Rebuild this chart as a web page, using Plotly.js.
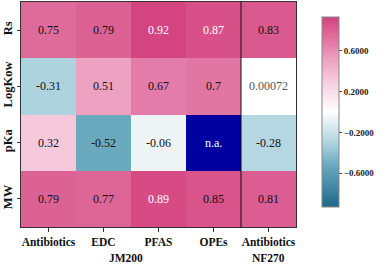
<!DOCTYPE html>
<html><head><meta charset="utf-8">
<script src="https://cdn.plot.ly/plotly-3.0.1.min.js"></script>
<style>html,body{margin:0;padding:0;background:#fff}#c{width:387px;height:265px}</style>
</head><body><div id="c"></div>
<script>
const rowLabels = ['Rs','LogKow','pKa','MW'];
const colLabels = ['Antibiotics','EDC','PFAS','OPEs','Antibiotics'];
const membranes = ['JM200','NF270'];
const rs     = [0.75, 0.79, 0.92, 0.87, 0.83];
const logKow = [-0.31, 0.51, 0.67, 0.7, 0.00072];
const pKa    = [0.32, -0.52, -0.06, null, -0.28];
const mw     = [0.79, 0.77, 0.89, 0.85, 0.81];
const naLabel = 'n.a.';

const z = [rs, logKow, pKa, mw];
const xs = colLabels.map((_, i) => i);
const serif = 'Liberation Serif, Times New Roman, serif';

const cs = [[0,'#1d6a87'],[0.22,'#6ba9bf'],[0.333,'#acd3de'],[0.468,'#eef4f6'],[0.5,'#ffffff'],
  [0.672,'#f5c9db'],[0.774,'#eda2c2'],[0.86,'#e37ca8'],[0.903,'#df6b9a'],[1,'#d3427e']];

const naZ = z.map(r => r.map(v => v === null ? 1 : null));

const traces = [
  {type:'heatmap', x: xs, y: rowLabels, z: z, zmin:-0.93, zmax:0.93, colorscale: cs,
   hoverongaps:false,
   colorbar:{x:1.057, xanchor:'left', y:0.978, yanchor:'top', len:0.933, lenmode:'fraction',
     thickness:17, outlinewidth:1, outlinecolor:'#888', tickvals:[-0.6,-0.2,0.2,0.6],
     tickformat:'.4f', ticks:'outside', ticklen:3, tickcolor:'#444',
     tickfont:{family:serif, size:9, color:'#222', weight:'bold'}}},
  {type:'heatmap', x: xs, y: rowLabels, z: naZ, colorscale:[[0,'#0000a0'],[1,'#0000a0']],
   showscale:false, hoverongaps:false}
];

const annotations = [];
z.forEach((row, ri) => row.forEach((v, ci) => {
  const txt = v === null ? naLabel : String(v);
  const white = v === null || v > 0.86;
  const grey = v !== null && Math.abs(v) < 0.01;
  annotations.push({x: ci, y: rowLabels[ri], xref:'x', yref:'y', text: txt, showarrow:false,
    font:{family:serif, size:12, color: white ? '#ffffff' : (grey ? '#555' : '#111')}});
}));
annotations.push({x:1.4, y:-0.137, xref:'x', yref:'paper', yanchor:'middle', text:membranes[0], showarrow:false,
  font:{family:serif, size:11.5, color:'#111', weight:'bold'}});
annotations.push({x:4, y:-0.137, xref:'x', yref:'paper', yanchor:'middle', text:membranes[1], showarrow:false,
  font:{family:serif, size:11.5, color:'#111', weight:'bold'}});

const layout = {
  width:387, height:265, margin:{l:21, r:68, t:2, b:38},
  paper_bgcolor:'#fff', plot_bgcolor:'#fff', showlegend:false,
  xaxis:{tickvals: xs, ticktext: colLabels, range:[-0.5, 4.5], ticks:'outside', ticklen:4,
    tickcolor:'#333', showgrid:false, zeroline:false, showline:true, mirror:true, linecolor:'#333', linewidth:1,
    tickfont:{family:serif, size:11.5, color:'#111', weight:'bold'}},
  yaxis:{autorange:'reversed', ticks:'outside', ticklen:3, tickcolor:'#333', tickangle:-90,
    showgrid:false, zeroline:false, showline:true, mirror:true, linecolor:'#333', linewidth:1,
    tickfont:{family:serif, size:12.5, color:'#111', weight:'bold'}},
  shapes:[{type:'line', xref:'x', yref:'paper', x0:3.5, x1:3.5, y0:0, y1:1, line:{color:'#111', width:1}}],
  annotations: annotations
};
Plotly.newPlot('c', traces, layout, {displayModeBar:false, staticPlot:true});
</script></body></html>
